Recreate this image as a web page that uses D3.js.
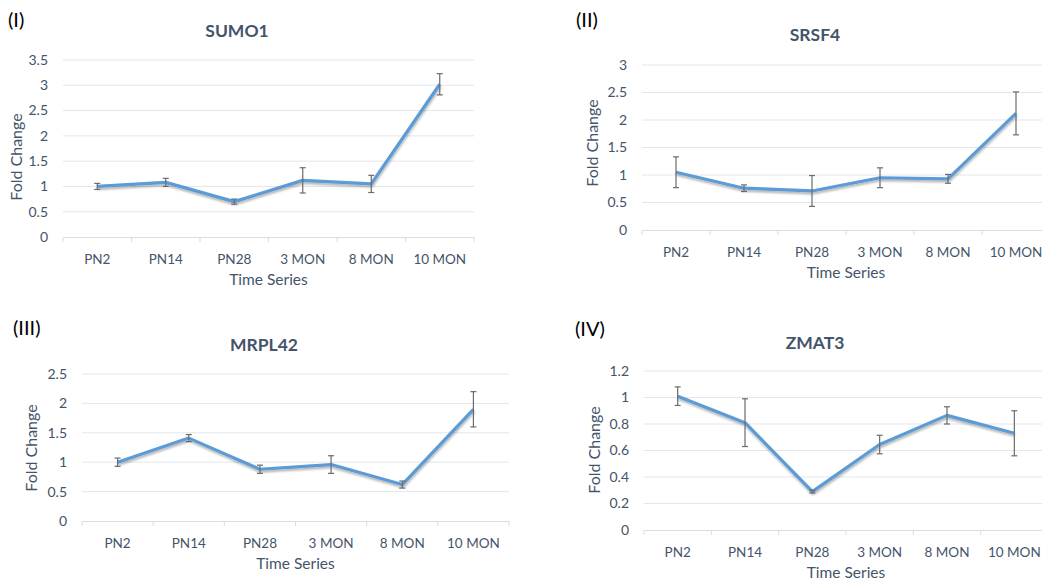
<!DOCTYPE html>
<html>
<head>
<meta charset="utf-8">
<script src="https://cdn.jsdelivr.net/npm/d3@7"></script>
<style>
  body { margin: 0; background: #fff; }
  svg { display: block; font-family: Lato, "Open Sans", sans-serif; }
</style>
</head>
<body>
<svg id="chart" width="1042" height="581"></svg>
<script>
const categories = ["PN2", "PN14", "PN28", "3 MON", "8 MON", "10 MON"];

const sumo1Values = [1.0, 1.08, 0.70, 1.12, 1.05, 3.02];
const sumo1Err = [0.06, 0.08, 0.05, 0.25, 0.17, 0.21];

const srsf4Values = [1.05, 0.76, 0.71, 0.95, 0.93, 2.12];
const srsf4Err = [0.28, 0.06, 0.28, 0.18, 0.08, 0.39];

const mrpl42Values = [1.0, 1.41, 0.88, 0.96, 0.62, 1.90];
const mrpl42Err = [0.07, 0.06, 0.07, 0.15, 0.06, 0.30];

const zmat3Values = [1.01, 0.81, 0.29, 0.645, 0.865, 0.73];
const zmat3Err = [0.07, 0.18, 0.01, 0.07, 0.065, 0.17];

const sumo1Ticks = [0, 0.5, 1, 1.5, 2, 2.5, 3, 3.5];
const srsf4Ticks = [0, 0.5, 1, 1.5, 2, 2.5, 3];
const mrpl42Ticks = [0, 0.5, 1, 1.5, 2, 2.5];
const zmat3Ticks = [0, 0.2, 0.4, 0.6, 0.8, 1, 1.2];

// layout of each panel (pixels)
const panels = [
  { tag: "(I)", title: "SUMO1", values: sumo1Values, err: sumo1Err, ticks: sumo1Ticks,
    left: 63, right: 474, top: 60, bottom: 237,
    tagX: 8, tagY: 27, titleX: 237, titleY: 37, ylabX: 22, ylabY: 157 },
  { tag: "(II)", title: "SRSF4", values: srsf4Values, err: srsf4Err, ticks: srsf4Ticks,
    left: 642, right: 1050, top: 65, bottom: 230,
    tagX: 576, tagY: 27, titleX: 815, titleY: 41, ylabX: 598, ylabY: 143 },
  { tag: "(III)", title: "MRPL42", values: mrpl42Values, err: mrpl42Err, ticks: mrpl42Ticks,
    left: 82, right: 509, top: 374, bottom: 521,
    tagX: 13, tagY: 335, titleX: 264, titleY: 351, ylabX: 37, ylabY: 448 },
  { tag: "(IV)", title: "ZMAT3", values: zmat3Values, err: zmat3Err, ticks: zmat3Ticks,
    left: 644, right: 1048, top: 371, bottom: 530,
    tagX: 575, tagY: 336, titleX: 815, titleY: 349, ylabX: 600, ylabY: 450 }
];

const TEXT = "#44546A";
const GRID = "#E3E6EC";
const LINE = "#5B9BD5";
const ERR = "#6B6B6B";

const svg = d3.select("#chart");

const defs = svg.append("defs");
const shadow = defs.append("filter")
  .attr("id", "shadow")
  .attr("x", "-10%").attr("y", "-20%")
  .attr("width", "120%").attr("height", "140%");
shadow.append("feDropShadow")
  .attr("dx", 0.5).attr("dy", 2)
  .attr("stdDeviation", 1.3)
  .attr("flood-color", "#000")
  .attr("flood-opacity", 0.3);

panels.forEach((p) => {
  const g = svg.append("g");

  const x = d3.scaleBand().domain(categories).range([p.left, p.right]);
  const y = d3.scaleLinear()
    .domain([0, d3.max(p.ticks)])
    .range([p.bottom, p.top]);

  // gridlines
  g.selectAll("line.grid")
    .data(p.ticks.filter(t => t > 0))
    .enter().append("line")
    .attr("class", "grid")
    .attr("x1", p.left).attr("x2", p.right)
    .attr("y1", d => y(d)).attr("y2", d => y(d))
    .attr("stroke", GRID)
    .attr("stroke-width", 1);

  // y tick labels
  g.selectAll("text.ytick")
    .data(p.ticks)
    .enter().append("text")
    .attr("class", "ytick")
    .attr("x", p.left - 15)
    .attr("y", d => y(d))
    .attr("dy", "0.35em")
    .attr("text-anchor", "end")
    .attr("fill", TEXT)
    .style("font-size", "14px")
    .text(d => d);

  // x axis
  const xAxis = g.append("g")
    .attr("transform", "translate(0," + p.bottom + ")")
    .call(d3.axisBottom(x).tickSize(0).tickPadding(17));
  xAxis.select(".domain").attr("stroke", "#D9DDE3");
  xAxis.selectAll("text")
    .attr("fill", TEXT)
    .style("font-size", "13.5px")
    .style("font-family", "Lato, 'Open Sans', sans-serif");

  // category separator ticks
  g.selectAll("line.sep")
    .data(d3.range(categories.length + 1))
    .enter().append("line")
    .attr("class", "sep")
    .attr("x1", i => p.left + i * x.step())
    .attr("x2", i => p.left + i * x.step())
    .attr("y1", p.bottom).attr("y2", p.bottom + 5)
    .attr("stroke", "#D9DDE3");

  const pts = categories.map((c, i) => ({
    cx: x(c) + x.bandwidth() / 2,
    v: p.values[i],
    e: p.err[i]
  }));

  // line
  g.append("path")
    .datum(pts)
    .attr("fill", "none")
    .attr("stroke", LINE)
    .attr("stroke-width", 3.2)
    .attr("stroke-linejoin", "round")
    .attr("filter", "url(#shadow)")
    .attr("d", d3.line().x(d => d.cx).y(d => y(d.v)));

  // error bars
  const eb = g.selectAll("g.err")
    .data(pts)
    .enter().append("g")
    .attr("class", "err")
    .attr("stroke", ERR)
    .attr("stroke-width", 1.2);
  eb.append("line")
    .attr("x1", d => d.cx).attr("x2", d => d.cx)
    .attr("y1", d => y(d.v + d.e)).attr("y2", d => y(d.v - d.e));
  eb.append("line")
    .attr("x1", d => d.cx - 3).attr("x2", d => d.cx + 3)
    .attr("y1", d => y(d.v + d.e)).attr("y2", d => y(d.v + d.e));
  eb.append("line")
    .attr("x1", d => d.cx - 3).attr("x2", d => d.cx + 3)
    .attr("y1", d => y(d.v - d.e)).attr("y2", d => y(d.v - d.e));

  // titles
  g.append("text")
    .attr("x", p.titleX).attr("y", p.titleY)
    .attr("text-anchor", "middle")
    .attr("fill", TEXT)
    .style("font-size", "17.5px")
    .style("font-weight", "bold")
    .text(p.title);

  g.append("text")
    .attr("x", (p.left + p.right) / 2)
    .attr("y", p.bottom + 48)
    .attr("text-anchor", "middle")
    .attr("fill", TEXT)
    .style("font-size", "15.5px")
    .text("Time Series");

  g.append("text")
    .attr("transform", "translate(" + p.ylabX + "," + p.ylabY + ") rotate(-90)")
    .attr("text-anchor", "middle")
    .attr("fill", TEXT)
    .style("font-size", "16px")
    .text("Fold Change");

  g.append("text")
    .attr("x", p.tagX).attr("y", p.tagY)
    .attr("fill", "#000")
    .style("font-size", "20px")
    .text(p.tag);
});
</script>
</body>
</html>
